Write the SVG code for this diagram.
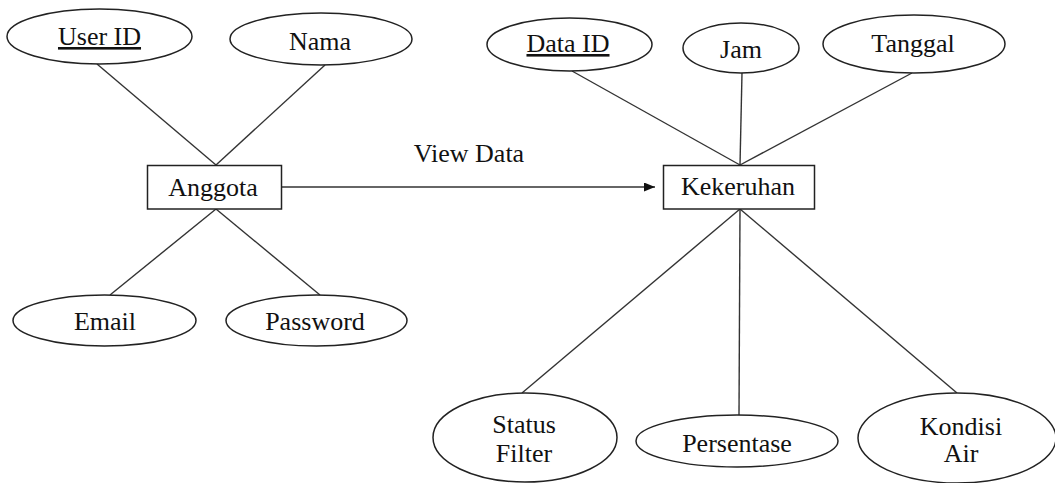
<svg xmlns="http://www.w3.org/2000/svg" width="1055" height="483" viewBox="0 0 1055 483">
  <style>
    .attr { fill: #ffffff; stroke: #222222; stroke-width: 1.5; }
    .entity { fill: #ffffff; stroke: #222222; stroke-width: 1.5; }
    .link { stroke: #333333; stroke-width: 1.4; fill: none; }
    text { font-family: 'Liberation Serif', 'DejaVu Serif', serif; font-size: 26px; fill: #111111; text-anchor: middle; }
    .key { text-decoration: underline; }
  </style>
  <defs>
    <marker id="arrow" viewBox="0 0 11 9" refX="11" refY="4.5" markerWidth="11" markerHeight="9" markerUnits="userSpaceOnUse" orient="auto">
      <path d="M0,0 L11,4.5 L0,9 Z" fill="#111111"/>
    </marker>
  </defs>
  <rect width="1055" height="483" fill="#ffffff"/>

  <!-- connectors -->
  <g id="connectors">
    <line class="link" x1="97" y1="64" x2="216" y2="165"/>
    <line class="link" x1="325" y1="65" x2="216" y2="165"/>
    <line class="link" x1="216" y1="209" x2="110" y2="295"/>
    <line class="link" x1="216" y1="209" x2="320" y2="295"/>
    <line class="link" x1="572" y1="71" x2="740" y2="165"/>
    <line class="link" x1="742" y1="73" x2="740" y2="165"/>
    <line class="link" x1="912" y1="73" x2="740" y2="165"/>
    <line class="link" x1="740" y1="209" x2="522" y2="393"/>
    <line class="link" x1="740" y1="209" x2="739" y2="415"/>
    <line class="link" x1="740" y1="209" x2="957" y2="393"/>
    <line class="link" x1="282" y1="187" x2="655" y2="187" stroke-width="1.6" marker-end="url(#arrow)"/>
    <text x="469" y="162" font-family="Liberation Serif, serif">View Data</text>
  </g>

  <!-- Anggota entity and attributes -->
  <g id="anggota">
    <rect class="entity" x="147.5" y="165.5" width="134" height="43.5"/>
    <text x="213" y="196">Anggota</text>
  </g>
  <g id="user-id">
    <ellipse class="attr" cx="99.5" cy="36.5" rx="92.5" ry="27.5"/>
    <text class="key" x="99.5" y="45">User ID</text>
  </g>
  <g id="nama">
    <ellipse class="attr" cx="321" cy="39" rx="91" ry="26"/>
    <text x="320" y="50">Nama</text>
  </g>
  <g id="email">
    <ellipse class="attr" cx="104.5" cy="320.5" rx="91.5" ry="25.5"/>
    <text x="105" y="330">Email</text>
  </g>
  <g id="password">
    <ellipse class="attr" cx="316.5" cy="320.5" rx="90.5" ry="25.5"/>
    <text x="315" y="330">Password</text>
  </g>

  <!-- Kekeruhan entity and attributes -->
  <g id="kekeruhan">
    <rect class="entity" x="663.5" y="165.5" width="151" height="43.5"/>
    <text x="738" y="195">Kekeruhan</text>
  </g>
  <g id="data-id">
    <ellipse class="attr" cx="569.5" cy="44.5" rx="82.5" ry="26.5"/>
    <text class="key" x="568" y="52">Data ID</text>
  </g>
  <g id="jam">
    <ellipse class="attr" cx="741" cy="48" rx="58" ry="25"/>
    <text x="741" y="58">Jam</text>
  </g>
  <g id="tanggal">
    <ellipse class="attr" cx="914" cy="44" rx="91" ry="29"/>
    <text x="913" y="52">Tanggal</text>
  </g>
  <g id="status-filter">
    <ellipse class="attr" cx="525" cy="437.5" rx="92" ry="44.5"/>
    <text x="524" y="433">Status</text>
    <text x="524" y="462">Filter</text>
  </g>
  <g id="persentase">
    <ellipse class="attr" cx="737" cy="441" rx="101" ry="26"/>
    <text x="737" y="452">Persentase</text>
  </g>
  <g id="kondisi-air">
    <ellipse class="attr" cx="957" cy="438" rx="99" ry="45"/>
    <text x="961" y="435">Kondisi</text>
    <text x="961" y="462">Air</text>
  </g>
</svg>
